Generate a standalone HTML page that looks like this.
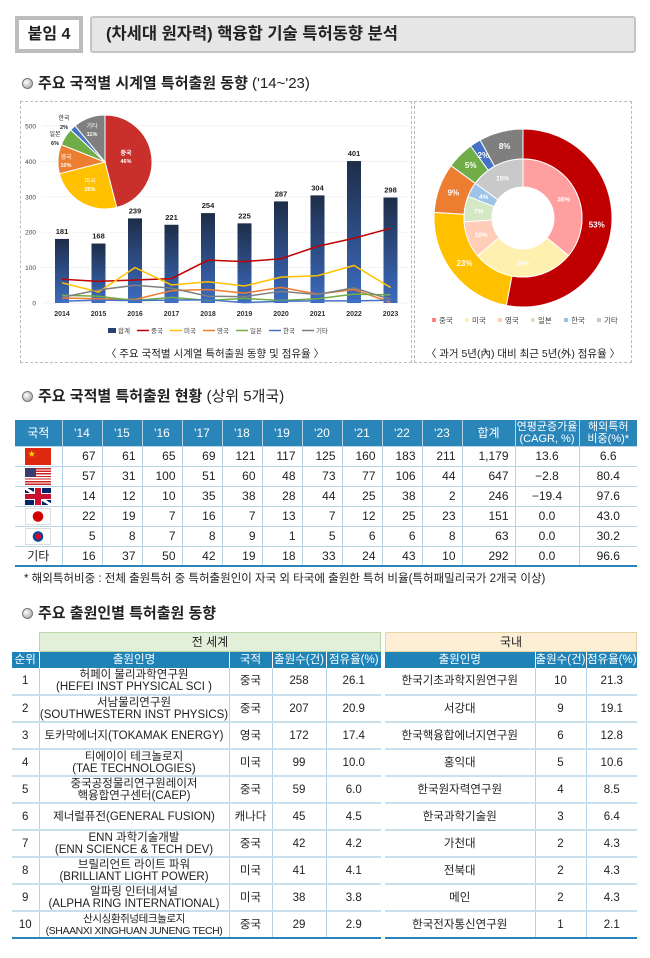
<!DOCTYPE html>
<html><head><meta charset="utf-8">
<style>
*{margin:0;padding:0;box-sizing:border-box}
body{width:650px;height:958px;background:#fff;position:relative;font-family:"Liberation Sans","Noto Sans CJK KR",sans-serif;color:#222;overflow:hidden}
.abs{position:absolute}
.sec{position:absolute;left:22px;font-size:15px;font-weight:bold;color:#222;white-space:nowrap}
.sec .dot{display:inline-block;width:11px;height:11px;border-radius:50%;background:radial-gradient(circle at 35% 35%,#fff,#999);border:1px solid #777;margin-right:5px;vertical-align:-1px}
table{border-collapse:collapse;position:absolute;table-layout:fixed}
#t1 td,#t1 th{font-size:12px;text-align:right;padding-right:6px;height:20px;border-left:1px solid #b7d3e6;border-bottom:1px solid #b7d3e6}
#t1 th{background:#2a86b9;color:#fff;text-align:center;padding:0;font-weight:normal;font-size:12px;line-height:12px;height:26px}
#t1 td:first-child,#t1 th:first-child{border-left:none;text-align:center;padding:0}
#t1 td:nth-child(n+13){text-align:center;padding:0}
#t1 tr:last-child td{border-bottom:2px solid #2a86b9}
.t3 td,.t3 th{font-size:11.5px;text-align:center;border-left:1px solid #b7d3e6;border-bottom:2px solid #c8dfee;height:27px;line-height:12px;white-space:nowrap;overflow:hidden}
.t3 th{background:#1f83b8;color:#fff;font-weight:normal;height:16px;border-left:1px solid #fff;border-bottom:none}
.t3 tr:last-child td{border-bottom:2px solid #2a86b9}
.flag{display:inline-block;width:26px;height:17px;vertical-align:middle}
</style></head><body>

<div class="abs" style="left:15px;top:16px;width:68px;height:37px;border:4px solid #bcbcbc;background:#fff;font-size:16px;font-weight:bold;text-align:center;line-height:29px">붙임 4</div>
<div class="abs" style="left:90px;top:16px;width:546px;height:37px;border:2px solid #c4c4c4;border-radius:3px;background:#e6e6e6;font-size:16.5px;font-weight:bold;line-height:33px;padding-left:14px">(차세대 원자력) 핵융합 기술 특허동향 분석</div>

<div class="sec" style="top:72px">
<span class="dot"></span>주요 국적별 시계열 특허출원 동향 <span style="font-weight:normal">('14~'23)</span></div>

<div class="abs" style="left:20px;top:101px;width:392px;height:262px;border:1px dashed #bbb"></div>
<div class="abs" style="left:414px;top:101px;width:218px;height:262px;border:1px dashed #bbb"></div>

<svg class="abs" style="left:0;top:0" width="650" height="380" id="sv"></svg>

<div class="sec" style="top:385px"><span class="dot"></span>주요 국적별 특허출원 현황 <span style="font-weight:normal">(상위 5개국)</span></div>

<table id="t1" style="left:15px;top:420px;width:622px">
<colgroup><col style="width:47px"><col span="10" style="width:40px"><col style="width:53px"><col style="width:64px"><col style="width:58px"></colgroup>
<tr><th>국적</th><th>'14</th><th>'15</th><th>'16</th><th>'17</th><th>'18</th><th>'19</th><th>'20</th><th>'21</th><th>'22</th><th>'23</th><th>합계</th><th style="font-size:11px">연평균증가율<br>(CAGR, %)</th><th style="font-size:11px">해외특허<br>비중(%)*</th></tr>
<tr><td><span class="flag" style="background:#de2910;position:relative"><span style="position:absolute;left:3px;top:1px;color:#ffde00;font-size:7px">★</span></span></td><td>67</td><td>61</td><td>65</td><td>69</td><td>121</td><td>117</td><td>125</td><td>160</td><td>183</td><td>211</td><td>1,179</td><td>13.6</td><td>6.6</td></tr>
<tr><td><span class="flag" style="background:repeating-linear-gradient(#c22 0 1.3px,#fff 1.3px 2.6px);position:relative"><span style="position:absolute;left:0;top:0;width:11px;height:9px;background:#3c3b6e"></span></span></td><td>57</td><td>31</td><td>100</td><td>51</td><td>60</td><td>48</td><td>73</td><td>77</td><td>106</td><td>44</td><td>647</td><td>−2.8</td><td>80.4</td></tr>
<tr><td><span class="flag" style="background:linear-gradient(#0000 6px,#c8102e 6px 11px,#0000 11px),linear-gradient(90deg,#0000 10px,#c8102e 10px 16px,#0000 16px),linear-gradient(#0000 5px,#fff 5px 12px,#0000 12px),linear-gradient(90deg,#0000 9px,#fff 9px 17px,#0000 17px),linear-gradient(33deg,#012169 45%,#fff 45% 55%,#012169 55%);"></span></td><td>14</td><td>12</td><td>10</td><td>35</td><td>38</td><td>28</td><td>44</td><td>25</td><td>38</td><td>2</td><td>246</td><td>−19.4</td><td>97.6</td></tr>
<tr><td><span class="flag" style="background:radial-gradient(circle,#d30000 5px,#fff 5.5px);border:1px solid #ddd"></span></td><td>22</td><td>19</td><td>7</td><td>16</td><td>7</td><td>13</td><td>7</td><td>12</td><td>25</td><td>23</td><td>151</td><td>0.0</td><td>43.0</td></tr>
<tr><td><span class="flag" style="background:radial-gradient(circle,#c60c30 3px,#0047a0 3.5px 5px,#fff 5.5px);border:1px solid #ddd"></span></td><td>5</td><td>8</td><td>7</td><td>8</td><td>9</td><td>1</td><td>5</td><td>6</td><td>6</td><td>8</td><td>63</td><td>0.0</td><td>30.2</td></tr>
<tr><td>기타</td><td>16</td><td>37</td><td>50</td><td>42</td><td>19</td><td>18</td><td>33</td><td>24</td><td>43</td><td>10</td><td>292</td><td>0.0</td><td>96.6</td></tr>
</table>
<div class="abs" style="left:24px;top:570px;font-size:11.5px;white-space:nowrap">* 해외특허비중 : 전체 출원특허 중 특허출원인이 자국 외 타국에 출원한 특허 비율(특허패밀리국가 2개국 이상)</div>

<div class="sec" style="top:602px"><span class="dot"></span>주요 출원인별 특허출원 동향</div>

<div class="abs" style="left:39px;top:632px;width:342px;height:20px;background:#e2efd9;border:1px solid #b9d7a8;text-align:center;font-size:12px;line-height:18px">전 세계</div>
<div class="abs" style="left:385px;top:632px;width:252px;height:20px;background:#fcefd5;border:1px solid #e8d3a6;text-align:center;font-size:12px;line-height:18px">국내</div>

<table class="t3" style="left:12px;top:652px;width:369px">
<colgroup><col style="width:27px"><col style="width:190px"><col style="width:43px"><col style="width:54px"><col style="width:55px"></colgroup>
<tr><th style="border-left:none">순위</th><th>출원인명</th><th>국적</th><th>출원수(건)</th><th>점유율(%)</th></tr>
<tr><td style="border-left:none">1</td><td>허페이 물리과학연구원<br>(HEFEI INST PHYSICAL SCI )</td><td>중국</td><td>258</td><td>26.1</td></tr>
<tr><td style="border-left:none">2</td><td>서남물리연구원<br>(SOUTHWESTERN INST PHYSICS)</td><td>중국</td><td>207</td><td>20.9</td></tr>
<tr><td style="border-left:none">3</td><td>토카막에너지(TOKAMAK ENERGY)</td><td>영국</td><td>172</td><td>17.4</td></tr>
<tr><td style="border-left:none">4</td><td>티에이이 테크놀로지<br>(TAE TECHNOLOGIES)</td><td>미국</td><td>99</td><td>10.0</td></tr>
<tr><td style="border-left:none">5</td><td>중국공정물리연구원레이저<br>핵융합연구센터(CAEP)</td><td>중국</td><td>59</td><td>6.0</td></tr>
<tr><td style="border-left:none">6</td><td>제너럴퓨전(GENERAL FUSION)</td><td>캐나다</td><td>45</td><td>4.5</td></tr>
<tr><td style="border-left:none">7</td><td>ENN 과학기술개발<br>(ENN SCIENCE &amp; TECH DEV)</td><td>중국</td><td>42</td><td>4.2</td></tr>
<tr><td style="border-left:none">8</td><td>브릴리언트 라이트 파워<br>(BRILLIANT LIGHT POWER)</td><td>미국</td><td>41</td><td>4.1</td></tr>
<tr><td style="border-left:none">9</td><td>알파링 인터네셔널<br>(ALPHA RING INTERNATIONAL)</td><td>미국</td><td>38</td><td>3.8</td></tr>
<tr><td style="border-left:none">10</td><td style="font-size:10.5px;letter-spacing:-0.4px">산시싱환쥐넝테크놀로지<br>(SHAANXI XINGHUAN JUNENG TECH)</td><td>중국</td><td>29</td><td>2.9</td></tr>
</table>

<table class="t3" style="left:385px;top:652px;width:252px">
<colgroup><col style="width:150px"><col style="width:51px"><col style="width:51px"></colgroup>
<tr><th style="border-left:none">출원인명</th><th>출원수(건)</th><th>점유율(%)</th></tr>
<tr><td style="border-left:none">한국기초과학지원연구원</td><td>10</td><td>21.3</td></tr>
<tr><td style="border-left:none">서강대</td><td>9</td><td>19.1</td></tr>
<tr><td style="border-left:none">한국핵융합에너지연구원</td><td>6</td><td>12.8</td></tr>
<tr><td style="border-left:none">홍익대</td><td>5</td><td>10.6</td></tr>
<tr><td style="border-left:none">한국원자력연구원</td><td>4</td><td>8.5</td></tr>
<tr><td style="border-left:none">한국과학기술원</td><td>3</td><td>6.4</td></tr>
<tr><td style="border-left:none">가천대</td><td>2</td><td>4.3</td></tr>
<tr><td style="border-left:none">전북대</td><td>2</td><td>4.3</td></tr>
<tr><td style="border-left:none">메인</td><td>2</td><td>4.3</td></tr>
<tr><td style="border-left:none">한국전자통신연구원</td><td>1</td><td>2.1</td></tr>
</table>

<script>
var s='';
function Y(v){return 303-v*0.354}
function X(i){return 62+i*36.5}
s+='<defs><linearGradient id="bg" x1="0" y1="0" x2="0" y2="1"><stop offset="0" stop-color="#1e2d48"/><stop offset="1" stop-color="#3c6cc0"/></linearGradient></defs>';
var ticks=[0,100,200,300,400,500];
ticks.forEach(function(t){s+='<line x1="42" x2="408" y1="'+Y(t)+'" y2="'+Y(t)+'" stroke="#eee" stroke-width="0.7"/><text x="36" y="'+(Y(t)+2.5)+'" font-size="6.5" text-anchor="end" fill="#444">'+t+'</text>'});
var tot=[181,168,239,221,254,225,287,304,401,298];
tot.forEach(function(v,i){var x=X(i);s+='<rect x="'+(x-7)+'" y="'+Y(v)+'" width="14" height="'+(v*0.354)+'" fill="url(#bg)"/><text x="'+x+'" y="'+(Y(v)-5)+'" font-size="7.5" font-weight="bold" text-anchor="middle" fill="#222">'+v+'</text><text x="'+x+'" y="316" font-size="7" font-weight="bold" text-anchor="middle" fill="#333">'+(2014+i)+'</text>'});
var L=[[ [67,61,65,69,121,117,125,160,183,211],'#c00000'],[[57,31,100,51,60,48,73,77,106,44],'#ffc000'],[[14,12,10,35,38,28,44,25,38,2],'#ed7d31'],[[22,19,7,16,7,13,7,12,25,23],'#70ad47'],[[5,8,7,8,9,1,5,6,6,8],'#4472c4'],[[16,37,50,42,19,18,33,24,43,10],'#7f7f7f']];
L.forEach(function(l){s+='<polyline fill="none" stroke="'+l[1]+'" stroke-width="1.5" points="'+l[0].map(function(v,i){return X(i)+','+Y(v)}).join(' ')+'"/>'});
var lg=[['합계','#2a4170',1],['중국','#c00000'],['미국','#ffc000'],['영국','#ed7d31'],['일본','#70ad47'],['한국','#4472c4'],['기타','#7f7f7f']];
var lx=108;
lg.forEach(function(g){if(g[2])s+='<rect x="'+lx+'" y="328" width="8" height="5" fill="'+g[1]+'"/>';else s+='<line x1="'+(lx-4)+'" x2="'+(lx+8)+'" y1="330.5" y2="330.5" stroke="'+g[1]+'" stroke-width="1.5"/>';s+='<text x="'+(lx+10)+'" y="333" font-size="6.5" fill="#444">'+g[0]+'</text>';lx+=33});
s+='<text x="215" y="357" font-size="10.5" text-anchor="middle" fill="#222">〈 주요 국적별 시계열 특허출원 동향 및 점유율 〉</text>';
s+='<text x="523" y="357" font-size="10.5" text-anchor="middle" fill="#222">〈 과거 5년(內) 대비 최근 5년(外) 점유율 〉</text>';
function arc(cx,cy,r0,r1,a0,a1){var f=function(r,a){a=(a-90)*Math.PI/180;return (cx+r*Math.cos(a)).toFixed(2)+','+(cy+r*Math.sin(a)).toFixed(2)};var lg=(a1-a0)>180?1:0;
 if(r0==0)return 'M'+cx+','+cy+' L'+f(r1,a0)+' A'+r1+','+r1+' 0 '+lg+' 1 '+f(r1,a1)+' Z';
 return 'M'+f(r1,a0)+' A'+r1+','+r1+' 0 '+lg+' 1 '+f(r1,a1)+' L'+f(r0,a1)+' A'+r0+','+r0+' 0 '+lg+' 0 '+f(r0,a0)+' Z'}
function lab(cx,cy,r,a,t,c,fs){a=(a-90)*Math.PI/180;return '<text x="'+(cx+r*Math.cos(a)).toFixed(1)+'" y="'+(cy+r*Math.sin(a)+2.5).toFixed(1)+'" font-size="'+fs+'" font-weight="bold" text-anchor="middle" fill="'+c+'">'+t+'</text>'}
var pv=[46,25,10,6,2,11],pc=['#c9302c','#ffc000','#ed7d31','#70ad47','#4472c4','#7f7f7f'];
var a=0,cx=105,cy=162;
pv.forEach(function(v,i){var a1=a+v*3.6;s+='<path d="'+arc(cx,cy,0,47,a,a1)+'" fill="'+pc[i]+'" stroke="#fff" stroke-width="1"/>';a=a1});
s+='<text x="126" y="155" font-size="6" fill="#fff" font-weight="bold" text-anchor="middle">중국</text><text x="126" y="163" font-size="5.5" fill="#fff" font-weight="bold" text-anchor="middle">46%</text>';
s+='<text x="90" y="183" font-size="6" fill="#fff" text-anchor="middle">미국</text><text x="90" y="191" font-size="5.5" fill="#fff" font-weight="bold" text-anchor="middle">25%</text>';
s+='<text x="66" y="159" font-size="6" fill="#fff" text-anchor="middle">영국</text><text x="66" y="167" font-size="5.5" fill="#fff" font-weight="bold" text-anchor="middle">10%</text>';
s+='<text x="55" y="136" font-size="6" fill="#222" text-anchor="middle">일본</text><text x="55" y="145" font-size="5.5" fill="#222" font-weight="bold" text-anchor="middle">6%</text>';
s+='<text x="64" y="120" font-size="6" fill="#222" text-anchor="middle">한국</text><text x="64" y="129" font-size="5.5" fill="#222" font-weight="bold" text-anchor="middle">2%</text>';
s+='<text x="92" y="128" font-size="6" fill="#fff" text-anchor="middle">기타</text><text x="92" y="136" font-size="5.5" fill="#fff" font-weight="bold" text-anchor="middle">11%</text>';
var ov=[53,23,9,5,2,8],oc=['#c00000','#ffc000','#ed7d31','#70ad47','#4472c4','#7f7f7f'];
var iv=[36,28,10,7,4,15],ic=['#ff9f9f','#fff0b0','#ffcdb8','#d5e8c4','#9dc3e6','#c9c9c9'];
var dx=523,dy=218;a=0;
ov.forEach(function(v,i){var a1=a+v*3.6;s+='<path d="'+arc(dx,dy,59,89,a,a1)+'" fill="'+oc[i]+'" stroke="#fff" stroke-width="1"/>';s+=lab(dx,dy,74,(a+a1)/2,v+'%','#fff',8);a=a1});
a=0;
iv.forEach(function(v,i){var a1=a+v*3.6;s+='<path d="'+arc(dx,dy,31,59,a,a1)+'" fill="'+ic[i]+'" stroke="#fff" stroke-width="1"/>';s+=lab(dx,dy,45,(a+a1)/2,v+'%','#fff',6.5);a=a1});
var dl=[['중국','#ff8080'],['미국','#fff0b0'],['영국','#ffcdb8'],['일본','#d5e8c4'],['한국','#9dc3e6'],['기타','#c9c9c9']];
lx=432;dl.forEach(function(g){s+='<rect x="'+lx+'" y="318" width="4" height="4" fill="'+g[1]+'"/><text x="'+(lx+7)+'" y="323" font-size="7.5" fill="#444">'+g[0]+'</text>';lx+=33});
document.getElementById('sv').innerHTML=s;
</script>
</body></html>
